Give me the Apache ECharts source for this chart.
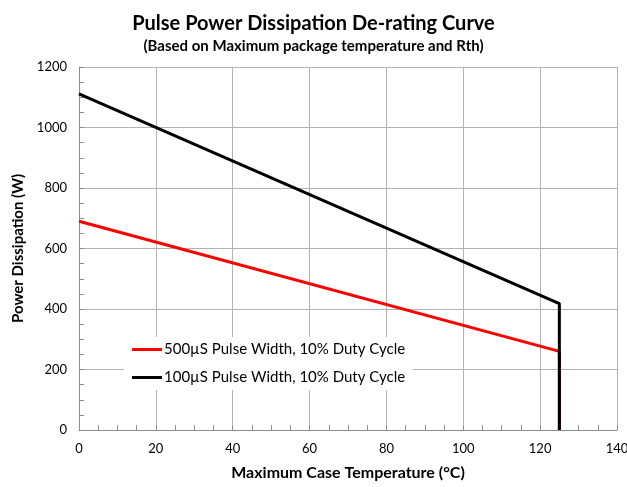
<!DOCTYPE html>
<html>
<head>
<meta charset="utf-8">
<script src="https://cdn.jsdelivr.net/npm/echarts@6/dist/echarts.min.js"></script>
<style>
  html, body { margin: 0; padding: 0; background: #fff; }
  #chart { width: 627px; height: 487px; }
</style>
</head>
<body>
<div id="chart"></div>
<script>
(function() {
  // data
  var seriesNames = ['500\u00b5S Pulse Width, 10% Duty Cycle', '100\u00b5S Pulse Width, 10% Duty Cycle'];
  var tempPoints = [0, 125, 125];
  var power500 = [690, 260, 0];
  var power100 = [1111, 418, 0];
  var seriesColors = ['#ff0000', '#000000'];

  function pairs(xs, ys) {
    var out = [];
    for (var i = 0; i < xs.length; i++) out.push([xs[i], ys[i]]);
    return out;
  }

  var font = 'Lato, "Open Sans", sans-serif';
  var chart = echarts.init(document.getElementById('chart'), null, { renderer: 'canvas' });
  chart.setOption({
    animation: false,
    textStyle: { fontFamily: font },
    title: {
      text: 'Pulse Power Dissipation De-rating Curve',
      subtext: '(Based on Maximum package temperature and Rth)',
      left: 'center',
      top: 9,
      itemGap: 5,
      textStyle: { fontFamily: font, fontSize: 20, fontWeight: 'bold', color: '#000' },
      subtextStyle: { fontFamily: font, fontSize: 15, fontWeight: 'bold', color: '#000' }
    },
    grid: { left: 79, right: 10, top: 67, bottom: 57, outerBoundsMode: 'none' },
    legend: {
      orient: 'vertical',
      left: 124,
      top: 337,
      itemWidth: 30,
      itemHeight: 3,
      itemGap: 13,
      icon: 'rect',
      backgroundColor: '#fff',
      padding: [5, 8, 5, 8],
      textStyle: { fontFamily: font, fontSize: 15, color: '#000', padding: [0, 0, 0, -3] },
      data: seriesNames
    },
    xAxis: {
      type: 'value',
      min: 0,
      max: 140,
      interval: 20,
      name: 'Maximum Case Temperature (\u00b0C)',
      nameLocation: 'middle',
      nameGap: 35,
      nameTextStyle: { fontFamily: font, fontSize: 16, fontWeight: 'bold', color: '#000' },
      axisLine: { lineStyle: { color: '#8c8c8c', width: 1 } },
      axisTick: { show: true, inside: true, length: 5, lineStyle: { color: '#8c8c8c' } },
      minorTick: { show: true, splitNumber: 4, length: 5, lineStyle: { color: '#8c8c8c' } },
      axisLabel: { fontFamily: font, fontSize: 13, color: '#000', margin: 12 },
      splitLine: { show: true, lineStyle: { color: '#b3b3b3', width: 1 } }
    },
    yAxis: {
      type: 'value',
      min: 0,
      max: 1200,
      interval: 200,
      name: 'Power Dissipation (W)',
      nameLocation: 'middle',
      nameGap: 48,
      nameTextStyle: { fontFamily: font, fontSize: 15, fontWeight: 'bold', color: '#000' },
      axisLine: { show: true, lineStyle: { color: '#8c8c8c', width: 1 } },
      axisTick: { show: true, inside: true, length: 5, lineStyle: { color: '#8c8c8c' } },
      minorTick: { show: true, splitNumber: 4, length: 5, lineStyle: { color: '#8c8c8c' } },
      axisLabel: { fontFamily: font, fontSize: 13, color: '#000', margin: 12, formatter: function(v) { return String(v); } },
      splitLine: { show: true, lineStyle: { color: '#b3b3b3', width: 1 } }
    },
    series: [{
      name: seriesNames[0],
      type: 'line',
      data: pairs(tempPoints, power500),
      showSymbol: false,
      lineStyle: { color: seriesColors[0], width: 3 },
      itemStyle: { color: seriesColors[0] }
    }, {
      name: seriesNames[1],
      type: 'line',
      data: pairs(tempPoints, power100),
      showSymbol: false,
      lineStyle: { color: seriesColors[1], width: 3 },
      itemStyle: { color: seriesColors[1] }
    }]
  });
  window.addEventListener('resize', function() { chart.resize(); });
})();
</script>
</body>
</html>
